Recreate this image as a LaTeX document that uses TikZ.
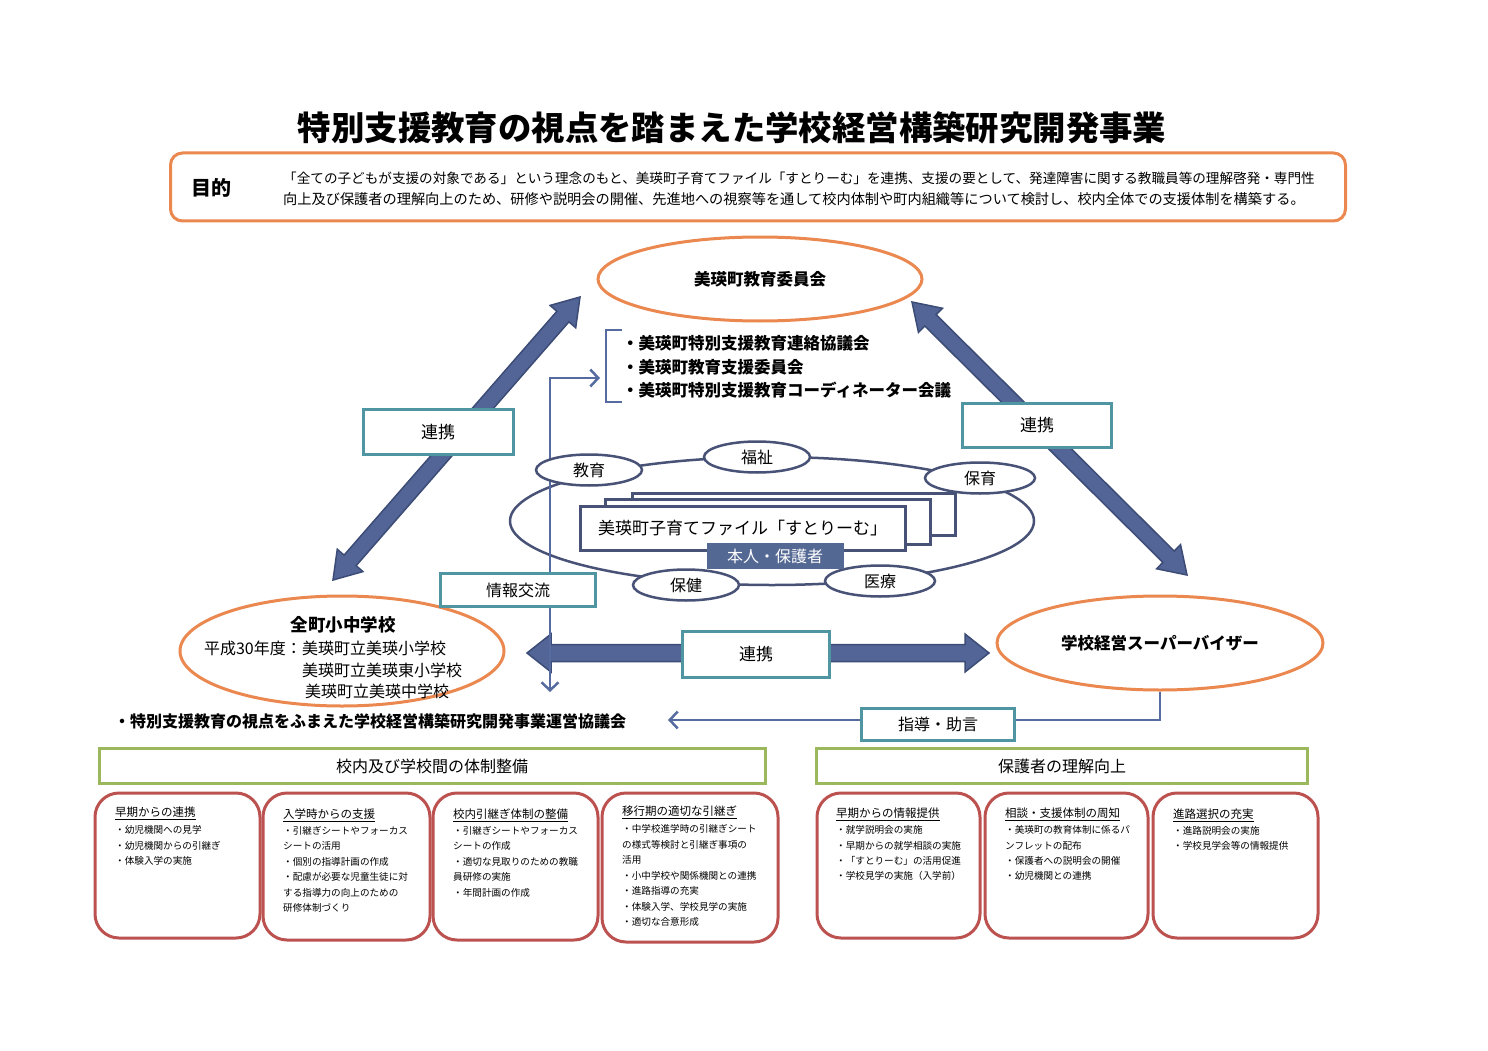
\documentclass[tikz,border=0pt]{standalone}
\usepackage{fontspec}
\setmainfont{Noto Sans CJK JP}
\usetikzlibrary{calc,arrows.meta,shapes.geometric}
\definecolor{cOrange}{RGB}{234,136,80}
\definecolor{cTeal}{RGB}{80,150,162}
\definecolor{cSlate}{RGB}{72,82,118}
\definecolor{cArrow}{RGB}{82,101,150}
\definecolor{cArrowD}{RGB}{60,76,118}
\definecolor{cLine}{RGB}{86,108,160}
\definecolor{cGreen}{RGB}{155,185,92}
\definecolor{cRed}{RGB}{188,82,80}
\definecolor{cFill}{RGB}{84,104,148}
\newcommand\fsz[1]{\fontsize{#1}{#1}\selectfont}
\newcommand\dblarrow[5]{%
 \path ($(#1)!#3!(#2)$) coordinate (#1-h) ($(#2)!#3!(#1)$) coordinate (#2-h);
 \filldraw[fatarrow] (#1) -- ($(#1-h)!#5!90:(#2)$) -- ($(#1-h)!#4!90:(#2)$) -- ($(#2-h)!#4!-90:(#1)$) -- ($(#2-h)!#5!-90:(#1)$) -- (#2) -- ($(#2-h)!#5!90:(#1)$) -- ($(#2-h)!#4!90:(#1)$) -- ($(#1-h)!#4!-90:(#2)$) -- ($(#1-h)!#5!-90:(#2)$) -- cycle;}
\tikzset{
 barb/.tip={Straight Barb[length=8pt,width=17pt]},
 fatarrow/.style={fill=cArrow,draw=cArrowD,line width=1.5pt,line join=miter},
 obox/.style={ellipse,draw=cOrange,line width=3pt,fill=white,inner sep=0pt},
 tbox/.style={draw=cTeal,line width=3pt,fill=white,inner sep=0pt,font=\fsz{16}},
 sell/.style={ellipse,draw=cSlate,line width=2.5pt,fill=white,inner sep=0pt,minimum width=106pt,minimum height=31pt,font=\fsz{16}},
 frect/.style={draw=cSlate,line width=3pt,fill=white,inner sep=0pt},
 gbox/.style={draw=cGreen,line width=3pt,fill=white,inner sep=0pt,font=\fsz{16}},
 rbox/.style={draw=cRed,line width=3pt,rounded corners=24pt,fill=white,inner sep=0pt},
 thinline/.style={draw=cLine,line width=2.5pt},
 txt/.style={inner sep=0pt,anchor=west},
 hd/.style={txt,font=\fsz{11.5}},
 it/.style={txt,font=\fsz{9.6}},
}
\begin{document}
\begin{tikzpicture}[x=1pt,y=-1pt]
\useasboundingbox[fill=white] (0,0) rectangle (1488,1051);

% title
\node[inner sep=0pt,font=\bfseries\fsz{33.4}] (title) at (732,128) {特別支援教育の視点を踏まえた学校経営構築研究開発事業};

% purpose box
\node[draw=cOrange,line width=3pt,rounded corners=12pt,minimum width=1175pt,minimum height=68pt,inner sep=0pt] (purpose) at (758,187) {};
\node[inner sep=0pt,font=\bfseries\fsz{20}] (mokuteki) at (211,188) {目的};
\node[txt,font=\fsz{13.6}] (p1) at (283,178) {「全ての子どもが支援の対象である」という理念のもと、美瑛町子育てファイル「すとりーむ」を連携、支援の要として、発達障害に関する教職員等の理解啓発・専門性};
\node[txt,font=\fsz{14.2}] (p2) at (283,199) {向上及び保護者の理解向上のため、研修や説明会の開催、先進地への視察等を通して校内体制や町内組織等について検討し、校内全体での支援体制を構築する。};

% fat arrows
\coordinate (la1) at (333,580); \coordinate (la2) at (580,297);
\coordinate (ra1) at (912,302); \coordinate (ra2) at (1187,575);
\coordinate (ha1) at (527,653); \coordinate (ha2) at (989,653);
\dblarrow{la1}{la2}{26pt}{8pt}{17pt}
\dblarrow{ra1}{ra2}{26pt}{8pt}{17pt}
\dblarrow{ha1}{ha2}{24pt}{8.5pt}{19pt}

% ellipses
\node[obox,minimum width=324pt,minimum height=84pt,font=\bfseries\fsz{16.5}] (boe) at (760,279) {美瑛町教育委員会};
\node[obox,minimum width=324pt,minimum height=110pt] (schools) at (342,651) {};
\node[obox,minimum width=326pt,minimum height=94pt,font=\bfseries\fsz{16.5}] (sv) at (1160,643) {学校経営スーパーバイザー};

\node[txt,anchor=center,font=\bfseries\fsz{17.5}] (s0) at (343,625) {全町小中学校};
\node[txt,anchor=east,font=\fsz{16}] (s1a) at (302,648) {平成30年度：};
\node[txt,font=\fsz{16}] (s1) at (302,648) {美瑛町立美瑛小学校};
\node[txt,font=\fsz{16}] (s2) at (302,670) {美瑛町立美瑛東小学校};
\node[txt,font=\fsz{16}] (s3) at (305,691) {美瑛町立美瑛中学校};

% bracket and list
\draw[thinline] (622,330) -- (606,330) -- (606,402) -- (622,402);
\node[txt,font=\bfseries\fsz{16.5}] (l1) at (622,343) {・美瑛町特別支援教育連絡協議会};
\node[txt,font=\bfseries\fsz{16.5}] (l2) at (622,367) {・美瑛町教育支援委員会};
\node[txt,font=\bfseries\fsz{16.5}] (l3) at (622,390) {・美瑛町特別支援教育コーディネーター会議};

% central ellipse
\node[ellipse,draw=cSlate,line width=2.5pt,minimum width=524pt,minimum height=128pt,inner sep=0pt] (big) at (772,521) {};

% vertical info line
\coordinate (vb) at (550,692); \coordinate (vr) at (600,378);
\draw[thinline,barb-barb] (vb) |- (vr);

% small ellipses
\node[sell] (kyoiku) at (589,470) {教育};
\node[sell] (fukushi) at (757,457) {福祉};
\node[sell,minimum width=110pt] (hoiku) at (980,478) {保育};
\node[sell] (hoken) at (686,585) {保健};
\node[sell,minimum width=110pt] (iryo) at (880,581) {医療};

% file stack
\node[frect,minimum width=323pt,minimum height=42pt] (f3) at (793.5,514) {};
\node[frect,minimum width=325pt,minimum height=45pt] (f2) at (767.5,521.5) {};
\node[frect,minimum width=325pt,minimum height=44pt,font=\fsz{17}] (f1) at (742.5,528) {美瑛町子育てファイル「すとりーむ」};
\node[fill=cFill,draw=cFill,minimum width=136pt,minimum height=25pt,inner sep=0pt,text=white,font=\fsz{16}] (honnin) at (775,556) {本人・保護者};

% label boxes
\node[tbox,minimum width=150pt,minimum height=45pt,font=\fsz{17}] (renkeiL) at (438,432) {連携};
\node[tbox,minimum width=149pt,minimum height=44pt,font=\fsz{17}] (renkeiR) at (1037,425) {連携};
\node[tbox,minimum width=147pt,minimum height=46pt,font=\fsz{17}] (renkeiM) at (756,654) {連携};
\node[tbox,minimum width=155pt,minimum height=33pt] (joho) at (518,590) {情報交流};

% guidance line
\coordinate (gl) at (668,720);
\draw[thinline,-barb] (sv.south) |- (gl);
\node[tbox,minimum width=153pt,minimum height=32pt] (shido) at (938,724) {指導・助言};
\node[txt,font=\bfseries\fsz{16}] (council) at (114,721) {・特別支援教育の視点をふまえた学校経営構築研究開発事業運営協議会};

% green headers
\node[gbox,minimum width=666pt,minimum height=35pt] (g1) at (432,766) {校内及び学校間の体制整備};
\node[gbox,minimum width=491pt,minimum height=35pt] (g2) at (1062,766) {保護者の理解向上};

% bottom boxes
\node[rbox,minimum width=165pt,minimum height=145pt] (b1) at (177.5,865.5) {};
\node[rbox,minimum width=167pt,minimum height=147pt] (b2) at (346.5,866.5) {};
\node[rbox,minimum width=165pt,minimum height=147pt] (b3) at (515.5,866.5) {};
\node[rbox,minimum width=176pt,minimum height=149pt] (b4) at (690,867.5) {};
\node[rbox,minimum width=163pt,minimum height=145pt] (b5) at (898.5,865.5) {};
\node[rbox,minimum width=163pt,minimum height=145pt] (b6) at (1066.5,865.5) {};
\node[rbox,minimum width=165pt,minimum height=145pt] (b7) at (1235.5,865.5) {};

\node[hd] (b1h) at (115,813) {\underline{早期からの連携}};
\node[it] (b1a) at (115,830) {・幼児機関への見学};
\node[it] (b1b) at (115,846) {・幼児機関からの引継ぎ};
\node[it] (b1c) at (115,861) {・体験入学の実施};

\node[hd] (b2h) at (283,815) {\underline{入学時からの支援}};
\node[it] (b2a) at (283,831) {・引継ぎシートやフォーカス};
\node[it] (b2b) at (283,846) {シートの活用};
\node[it] (b2c) at (283,862) {・個別の指導計画の作成};
\node[it] (b2d) at (283,877) {・配慮が必要な児童生徒に対};
\node[it] (b2e) at (283,893) {する指導力の向上のための};
\node[it] (b2f) at (283,908) {研修体制づくり};

\node[hd] (b3h) at (453,815) {\underline{校内引継ぎ体制の整備}};
\node[it] (b3a) at (453,831) {・引継ぎシートやフォーカス};
\node[it] (b3b) at (453,846) {シートの作成};
\node[it] (b3c) at (453,862) {・適切な見取りのための教職};
\node[it] (b3d) at (453,877) {員研修の実施};
\node[it] (b3e) at (453,893) {・年間計画の作成};

\node[hd] (b4h) at (622,812) {\underline{移行期の適切な引継ぎ}};
\node[it] (b4a) at (622,829) {・中学校進学時の引継ぎシート};
\node[it] (b4b) at (622,845) {の様式等検討と引継ぎ事項の};
\node[it] (b4c) at (622,860) {活用};
\node[it] (b4d) at (622,876) {・小中学校や関係機関との連携};
\node[it] (b4e) at (622,891) {・進路指導の充実};
\node[it] (b4f) at (622,907) {・体験入学、学校見学の実施};
\node[it] (b4g) at (622,922) {・適切な合意形成};

\node[hd] (b5h) at (836,814) {\underline{早期からの情報提供}};
\node[it] (b5a) at (836,830) {・就学説明会の実施};
\node[it] (b5b) at (836,846) {・早期からの就学相談の実施};
\node[it] (b5c) at (836,861) {・「すとりーむ」の活用促進};
\node[it] (b5d) at (836,876) {・学校見学の実施（入学前）};

\node[hd] (b6h) at (1005,814) {\underline{相談・支援体制の周知}};
\node[it] (b6a) at (1005,830) {・美瑛町の教育体制に係るパ};
\node[it] (b6b) at (1005,846) {ンフレットの配布};
\node[it] (b6c) at (1005,861) {・保護者への説明会の開催};
\node[it] (b6d) at (1005,876) {・幼児機関との連携};

\node[hd] (b7h) at (1173,815) {\underline{進路選択の充実}};
\node[it] (b7a) at (1173,831) {・進路説明会の実施};
\node[it] (b7b) at (1173,846) {・学校見学会等の情報提供};
\end{tikzpicture}
\end{document}
